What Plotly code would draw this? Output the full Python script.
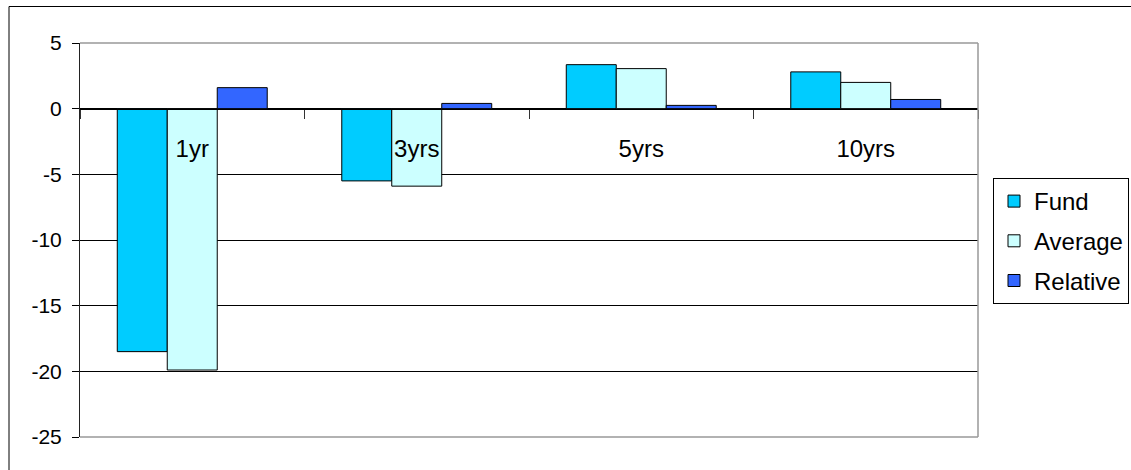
import plotly.graph_objects as go

categories = ["1yr", "3yrs", "5yrs", "10yrs"]
fund = [-18.5, -5.5, 3.35, 2.8]
average = [-19.9, -5.9, 3.05, 2.0]
relative = [1.6, 0.4, 0.25, 0.7]
y_ticks = [5, 0, -5, -10, -15, -20, -25]
y_range = [-25, 5]

FONT = "Liberation Sans, Arial, sans-serif"

W, H = 1131, 470
L, R, T, B = 80, 978, 43, 437

fig = go.Figure()
series = [("Fund", fund, "#00CCFF"), ("Average", average, "#CCFFFF"), ("Relative", relative, "#3366FF")]
for name, vals, col in series:
    fig.add_trace(go.Bar(
        x=categories, y=vals, name=name, legendgroup=name,
        marker=dict(color=col, line=dict(color="black", width=1)),
    ))

pw, ph = R - L, B - T
zero_pos = (0 - y_range[0]) / (y_range[1] - y_range[0])

fig.update_layout(
    width=W, height=H,
    margin=dict(l=L, r=W - R, t=T, b=H - B, pad=0, autoexpand=False),
    paper_bgcolor="white", plot_bgcolor="white",
    font=dict(family=FONT, color="black"),
    barmode="group", bargap=0.332, bargroupgap=0,
    showlegend=True,
    legend=dict(
        x=(1129 - L) / pw, y=(B - 178) / ph, xanchor="right", yanchor="top",
        bordercolor="black", borderwidth=1, bgcolor="white",
        font=dict(family=FONT, size=24, color="black"),
        traceorder="grouped", tracegroupgap=5.5,
    ),
    xaxis=dict(
        type="category", anchor="free", position=zero_pos,
        showline=True, linecolor="black", linewidth=1,
        ticks="outside", ticklen=9, tickcolor="#333333", tickson="boundaries",
        showgrid=False, zeroline=False, automargin=False,
        tickfont=dict(family=FONT, size=24, color="black"),
        ticklabelstandoff=19,
    ),
    yaxis=dict(
        range=y_range, tickvals=y_ticks, ticktext=[str(v) for v in y_ticks],
        showline=True, linecolor="#222222", linewidth=1,
        ticks="outside", ticklen=7, tickcolor="black",
        showgrid=True, gridcolor="black", gridwidth=1,
        zeroline=False, automargin=False,
        tickfont=dict(family=FONT, size=21, color="black"),
        ticklabelstandoff=6,
    ),
)

# plot area border (top, right, bottom) in gray
for x0, y0, x1, y1 in [(0, 1, 1, 1), (1, 0, 1, 1), (0, 0, 1, 0)]:
    fig.add_shape(type="line", xref="paper", yref="paper", x0=x0, y0=y0, x1=x1, y1=y1,
                  line=dict(color="#999999", width=1.5), layer="above")

# outer chart border
fig.add_shape(type="rect", xref="paper", yref="paper",
              x0=(9 - L) / pw, y0=-0.3, x1=1.3, y1=(B - 6.5) / ph,
              line=dict(color="black", width=1), fillcolor="rgba(0,0,0,0)", layer="below")

fig.write_html("out.html")
